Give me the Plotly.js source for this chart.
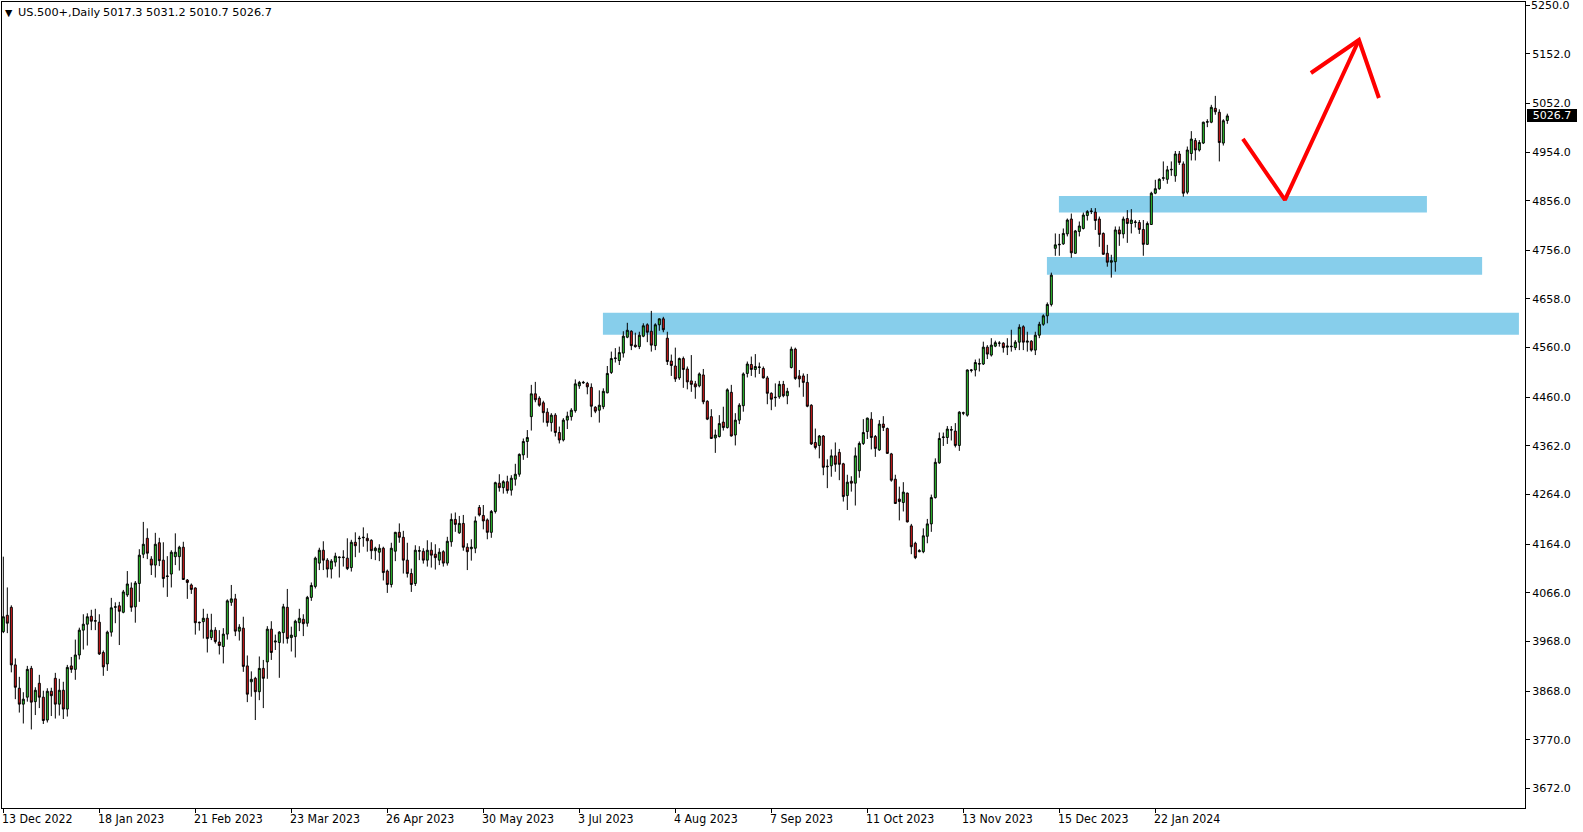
<!DOCTYPE html>
<html>
<head>
<meta charset="utf-8">
<script src="https://cdn.plot.ly/plotly-3.0.1.min.js"></script>
<style>
html,body{margin:0;padding:0;background:#ffffff;overflow:hidden;}
#chart{width:1583px;height:832px;}
</style>
</head>
<body>
<div id="chart"></div>
<script>
// ---------------- DATA ----------------
const symbolTitle = "US.500+,Daily";

const openP = [
3988,4021,4037,3921,3874,3842,3856,3914,3847,3884,
3856,3810,3868,3894,3842,3870,3832,3919,3912,3941,
3991,4003,4019,4009,4007,3946,3923,3987,4037,4040,
4027,4062,4076,4038,4085,4144,4176,4134,4122,4167,
4132,4099,4104,4139,4139,4158,4092,4082,4076,4007,
4008,4015,3976,3991,3967,3958,3983,4047,4054,3989,
3995,3919,3887,3894,3867,3914,3927,3993,3967,3966,
3986,4037,3976,3978,4006,4013,4005,4057,4079,4126,
4152,4132,4114,4128,4137,4137,4136,4117,4168,4175,
4177,4176,4172,4151,4148,4156,4110,4083,4150,4188,
4178,4132,4105,4085,4150,4150,4132,4152,4144,4132,
4149,4126,4169,4214,4187,4206,4158,4155,4156,4238,
4222,4213,4188,4230,4287,4278,4290,4273,4295,4305,
4344,4371,4421,4467,4458,4449,4430,4409,4424,4389,
4374,4414,4421,4433,4483,4489,4488,4480,4440,4434,
4441,4469,4510,4538,4534,4549,4581,4593,4565,4562,
4583,4606,4593,4564,4606,4618,4579,4533,4523,4499,
4538,4517,4493,4487,4483,4505,4452,4421,4378,4381,
4410,4399,4470,4384,4414,4443,4508,4526,4516,4520,
4518,4499,4468,4459,4461,4486,4463,4520,4557,4503,
4503,4490,4444,4369,4363,4382,4320,4322,4342,4349,
4326,4262,4291,4287,4312,4367,4391,4416,4381,4354,
4406,4397,4346,4295,4255,4248,4267,4201,4166,4149,
4149,4180,4205,4258,4328,4379,4379,4395,4392,4363,
4429,4424,4514,4515,4528,4527,4561,4545,4563,4569,
4569,4561,4563,4560,4571,4602,4571,4573,4555,4585,
4607,4624,4647,4760,4767,4769,4789,4819,4750,4794,
4800,4826,4834,4833,4819,4790,4750,4732,4733,4797,
4789,4820,4810,4812,4812,4798,4768,4808,4871,4880,
4901,4899,4918,4906,4950,4930,4873,4951,4977,4958,
4972,5014,5014,5042,5034,4972,5017.3
];

const highP = [
4139,4077,4041,3934,3897,3866,3919,3919,3876,3901,
3869,3874,3875,3905,3893,3887,3921,3937,3972,3996,
4023,4025,4032,4034,4023,3950,3990,4056,4047,4048,
4072,4110,4087,4090,4154,4209,4196,4140,4187,4177,
4168,4140,4152,4186,4161,4169,4094,4085,4077,4008,
4034,4024,4024,3997,3991,3995,4053,4082,4064,4003,
4018,3940,3908,3897,3938,3931,3999,4009,3982,3989,
4044,4074,3998,4012,4034,4023,4060,4087,4139,4157,
4170,4136,4134,4147,4139,4152,4176,4173,4188,4181,
4198,4186,4174,4159,4164,4159,4113,4167,4189,4206,
4191,4167,4115,4162,4160,4156,4172,4168,4164,4156,
4152,4179,4226,4228,4221,4223,4166,4174,4220,4243,
4243,4216,4233,4290,4305,4293,4302,4303,4326,4347,
4377,4394,4485,4491,4462,4453,4438,4428,4428,4401,
4418,4431,4438,4496,4493,4493,4491,4488,4442,4474,
4478,4523,4552,4559,4562,4593,4610,4595,4590,4592,
4609,4609,4634,4609,4619,4622,4592,4546,4560,4540,
4542,4522,4545,4493,4510,4517,4454,4436,4395,4424,
4441,4478,4485,4428,4448,4510,4532,4542,4547,4530,
4522,4503,4470,4488,4493,4493,4479,4562,4560,4515,
4508,4507,4446,4397,4384,4384,4335,4355,4369,4356,
4328,4304,4301,4359,4371,4416,4419,4430,4384,4414,
4422,4399,4348,4304,4280,4289,4268,4205,4169,4154,
4196,4215,4264,4337,4389,4389,4402,4402,4408,4432,
4431,4516,4517,4536,4538,4572,4565,4579,4574,4573,
4571,4579,4596,4575,4607,4605,4592,4575,4592,4612,
4627,4651,4711,4790,4789,4800,4820,4830,4797,4814,
4832,4837,4841,4841,4824,4792,4767,4747,4804,4804,
4824,4837,4839,4817,4817,4817,4814,4874,4898,4901,
4935,4926,4935,4956,4956,4935,4965,4996,4982,4978,
5015,5020,5049,5067,5040,5020,5031.2
];

const lowP = [
3985,3985,3906,3852,3825,3803,3847,3791,3820,3834,
3802,3805,3818,3813,3819,3812,3817,3905,3891,3932,
3952,3960,3991,3991,3941,3899,3909,3978,4005,3961,
4025,4058,4028,4006,4048,4136,4134,4102,4097,4120,
4077,4058,4077,4122,4111,4093,4054,4064,3982,3990,
3974,3946,3971,3964,3942,3924,3972,4040,3979,3970,
3907,3846,3857,3810,3850,3834,3893,3931,3951,3895,
3964,3964,3948,3936,3989,3979,3998,4050,4075,4112,
4112,4097,4095,4119,4097,4119,4112,4109,4138,4147,
4159,4149,4134,4132,4130,4091,4066,4077,4130,4167,
4105,4097,4068,4080,4132,4125,4119,4117,4113,4122,
4119,4121,4159,4189,4185,4151,4112,4131,4146,4220,
4194,4174,4177,4226,4270,4266,4266,4262,4282,4300,
4334,4338,4393,4450,4441,4409,4401,4391,4381,4367,
4371,4396,4413,4429,4477,4487,4466,4420,4428,4409,
4436,4468,4507,4530,4525,4540,4579,4555,4560,4557,
4581,4571,4552,4555,4594,4591,4525,4503,4491,4495,
4479,4476,4471,4457,4480,4446,4414,4376,4348,4379,
4393,4397,4381,4363,4406,4431,4500,4503,4500,4507,
4498,4446,4434,4441,4457,4460,4446,4518,4495,4480,
4461,4440,4364,4355,4337,4303,4277,4300,4310,4293,
4250,4233,4270,4242,4298,4364,4376,4355,4340,4352,
4392,4346,4290,4245,4212,4230,4208,4144,4134,4148,
4146,4166,4189,4256,4326,4362,4366,4373,4359,4352,
4424,4421,4510,4502,4512,4525,4537,4542,4561,4562,
4550,4545,4552,4555,4555,4555,4552,4552,4545,4579,
4604,4609,4643,4745,4745,4767,4784,4741,4749,4784,
4798,4816,4829,4797,4763,4747,4723,4701,4713,4765,
4780,4771,4790,4802,4789,4745,4767,4807,4869,4878,
4896,4890,4906,4894,4928,4864,4869,4937,4937,4955,
4970,5004,5012,5029,4935,4967,5010.7
];

const closeP = [
4018,4005,3921,3876,3842,3852,3912,3846,3870,3856,
3809,3868,3859,3842,3870,3832,3916,3912,3941,3991,
4003,4018,4009,4010,3943,3917,3987,4036,4038,4029,
4068,4084,4037,4086,4142,4164,4146,4122,4164,4131,
4095,4100,4148,4148,4158,4093,4087,4073,4006,4006,
4015,3974,3991,3968,3960,3983,4050,4054,3989,3997,
3918,3862,3892,3867,3914,3894,3993,3946,3969,3987,
4038,3974,3981,4009,4015,4004,4057,4081,4136,4152,
4132,4114,4130,4140,4138,4138,4115,4168,4161,4176,
4178,4171,4151,4156,4156,4107,4083,4156,4188,4178,
4132,4105,4083,4152,4151,4132,4152,4142,4137,4148,
4126,4170,4214,4204,4206,4158,4149,4158,4211,4223,
4211,4188,4230,4288,4278,4290,4272,4297,4305,4345,
4371,4379,4467,4455,4444,4429,4409,4424,4389,4374,
4414,4422,4434,4487,4490,4490,4481,4442,4432,4444,
4472,4508,4538,4539,4550,4583,4595,4564,4562,4585,
4604,4591,4565,4606,4618,4596,4532,4524,4497,4538,
4516,4491,4486,4481,4507,4451,4416,4377,4384,4407,
4399,4475,4382,4414,4444,4507,4527,4516,4522,4521,
4499,4468,4456,4460,4486,4463,4472,4557,4498,4497,
4490,4442,4366,4359,4382,4319,4321,4342,4325,4325,
4260,4289,4287,4342,4367,4389,4418,4379,4357,4406,
4399,4347,4293,4246,4250,4269,4209,4159,4137,4151,
4181,4205,4258,4329,4377,4380,4396,4394,4363,4430,
4428,4515,4515,4530,4527,4561,4547,4565,4570,4569,
4560,4563,4562,4571,4601,4571,4573,4555,4585,4607,
4624,4647,4706,4767,4768,4790,4817,4751,4795,4805,
4827,4834,4835,4816,4788,4748,4732,4735,4797,4789,
4819,4810,4817,4813,4798,4768,4810,4871,4880,4899,
4902,4918,4919,4950,4933,4871,4958,4980,4958,4973,
5014,5015,5044,5035,4973,5017,5026.7
];

// x-axis labels (bar index of each label, label text)
const xTickIdx  = [0,24,48,72,96,120,144,168,192,216,240,264,288];
const xTickText = ["13 Dec 2022","18 Jan 2023","21 Feb 2023","23 Mar 2023","26 Apr 2023",
                   "30 May 2023","3 Jul 2023","4 Aug 2023","7 Sep 2023","11 Oct 2023",
                   "13 Nov 2023","15 Dec 2023","22 Jan 2024"];

// y-axis price labels
const yTickVals = [3672,3770,3868,3968,4066,4164,4264,4362,4460,4560,4658,4756,4856,4954,5052,5152,5250];

// drawn zones (bar index span, price span)
const zoneStart = [149.9, 260.9, 263.9];
const zoneEnd   = [378.9, 369.7, 355.9];
const zoneLow   = [4586, 4707, 4832];
const zoneHigh  = [4630, 4742.5, 4865.4];

// hand-drawn red arrow (bar index, price)
const arrowX = [309.9, 320.4, 338.9, null, 326.9, 338.9, 343.9];
const arrowY = [4980.2, 4857.4, 5179.6, null, 5113.1, 5179.6, 5062.8];

// ---------------- CHART ----------------
const idx = openP.map((_, i) => i);
const n = closeP.length;
const lastO = openP[n-1], lastH = highP[n-1], lastL = lowP[n-1], lastC = closeP[n-1];

const candle = {
  type: 'candlestick',
  x: idx, open: openP, high: highP, low: lowP, close: closeP,
  increasing: {line: {color: '#000000', width: 1}, fillcolor: '#32CD32'},
  decreasing: {line: {color: '#000000', width: 1}, fillcolor: '#E01B1B'},
  whiskerwidth: 0,
  hoverinfo: 'skip',
  showlegend: false
};

const arrow = {
  type: 'scatter', mode: 'lines',
  x: arrowX, y: arrowY,
  line: {color: '#FF0000', width: 4},
  connectgaps: false,
  hoverinfo: 'skip', showlegend: false, cliponaxis: false
};

const shapes = zoneStart.map((s, k) => ({
  type: 'rect', xref: 'x', yref: 'y', layer: 'below',
  x0: s, x1: zoneEnd[k], y0: zoneLow[k], y1: zoneHigh[k],
  fillcolor: '#87CEEB', line: {width: 0}
}));

const FONT = 'DejaVu Sans, Verdana, sans-serif';
const annotations = [];
xTickIdx.forEach((v, k) => {
  annotations.push({
    xref: 'x', yref: 'paper', x: v, y: 0,
    xanchor: 'left', yanchor: 'middle', yshift: -11, xshift: -1,
    text: xTickText[k], showarrow: false, borderpad: 0, borderwidth: 0,
    font: {family: 'DejaVu Sans Condensed, Liberation Sans, sans-serif', size: 12.3, color: '#000000'}
  });
});
// top price label (drawn as text so that it is not hidden at the frame edge)
const topTick = yTickVals[yTickVals.length - 1];
annotations.push({xref: 'paper', yref: 'y', x: 1, y: topTick, xanchor: 'left', yanchor: 'middle',
  xshift: 6, text: topTick.toFixed(1), showarrow: false, borderpad: 0, borderwidth: 0,
  font: {family: FONT, size: 11, color: '#000000'}});
// header
annotations.push({xref: 'paper', yref: 'paper', x: 0, y: 1, xanchor: 'left', yanchor: 'middle',
  xshift: 3, yshift: -10, text: '\u25BC', showarrow: false, borderpad: 0, borderwidth: 0,
  font: {family: FONT, size: 9.5, color: '#000000'}});
annotations.push({xref: 'paper', yref: 'paper', x: 0, y: 1, xanchor: 'left', yanchor: 'middle',
  xshift: 16, yshift: -10, text: symbolTitle, showarrow: false, borderpad: 0, borderwidth: 0,
  font: {family: FONT, size: 11.3, color: '#000000'}});
annotations.push({xref: 'paper', yref: 'paper', x: 0, y: 1, xanchor: 'left', yanchor: 'middle',
  xshift: 101, yshift: -10,
  text: [lastO, lastH, lastL, lastC].map(v => v.toFixed(1)).join(' '),
  showarrow: false, borderpad: 0, borderwidth: 0,
  font: {family: FONT, size: 11.3, color: '#000000'}});
// current price box
annotations.push({xref: 'paper', yref: 'y', x: 1, y: lastC, xanchor: 'left', yanchor: 'middle',
  xshift: 2, text: lastC.toFixed(1), showarrow: false, bgcolor: '#000000',
  bordercolor: '#000000', borderwidth: 1, borderpad: 0, width: 48, height: 11,
  font: {family: FONT, size: 11, color: '#FFFFFF'}});

const layout = {
  width: 1583, height: 832,
  margin: {l: 2, r: 58, t: 2, b: 24, pad: 0},
  paper_bgcolor: '#FFFFFF', plot_bgcolor: '#FFFFFF',
  font: {family: FONT, size: 11, color: '#000000'},
  showlegend: false,
  hovermode: false,
  boxgap: 0.5, boxgroupgap: 0,
  xaxis: {
    type: 'linear', range: [-0.33, 380.42], rangeslider: {visible: false},
    tickvals: xTickIdx, ticks: 'outside', ticklen: 4, tickcolor: '#000000', tickwidth: 1,
    showticklabels: false, showgrid: false, zeroline: false,
    showline: true, mirror: true, linecolor: '#000000', linewidth: 1, fixedrange: true
  },
  yaxis: {
    side: 'right', range: [3632.8, 5256.1],
    tickvals: yTickVals, ticktext: yTickVals.map(v => v === topTick ? '' : v.toFixed(1)),
    ticks: 'outside', ticklen: 4, tickcolor: '#000000', tickwidth: 1,
    tickfont: {family: FONT, size: 11, color: '#000000'},
    showgrid: false, zeroline: false,
    showline: true, mirror: true, linecolor: '#000000', linewidth: 1, fixedrange: true
  },
  shapes: shapes,
  annotations: annotations
};

Plotly.newPlot('chart', [candle, arrow], layout, {displayModeBar: false, staticPlot: true});
</script>
</body>
</html>
